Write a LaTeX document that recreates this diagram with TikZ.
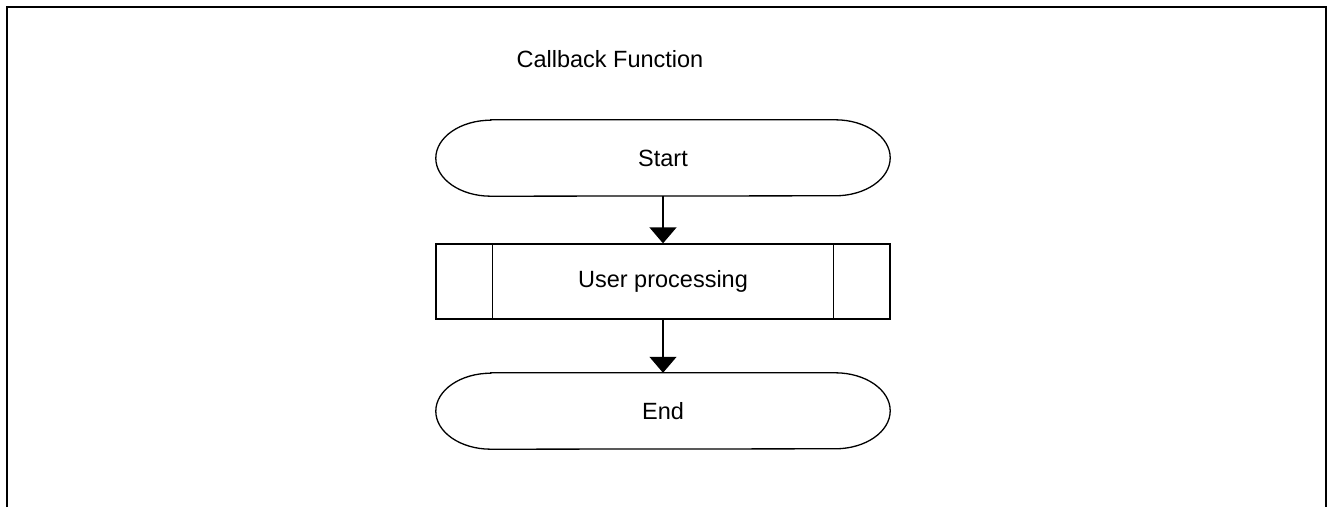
\documentclass[tikz,border=0pt]{standalone}
\usepackage{fontspec}
\setmainfont{Liberation Sans}
\usetikzlibrary{arrows.meta}
\begin{document}
\begin{tikzpicture}[x=1pt,y=1pt,
  txt/.style={font=\fontsize{23.5}{28}\selectfont},
  term/.style={txt, minimum width=454pt, minimum height=76pt, inner sep=0pt},
  proc/.style={txt, draw, line width=1.3pt, minimum width=454pt, minimum height=75pt, inner sep=0pt},
  shapeline/.style={line width=1.3pt},
  flow/.style={line width=1.3pt, -{Triangle[width=27pt,length=16pt]}}]
\useasboundingbox (0,0) rectangle (1328,507);
% frame open at bottom
\draw[line width=2pt] (7,0) -- (7,500) -- (1326,500) -- (1326,0);
% title
\node[txt, anchor=base west] (title) at (513,439) {Callback Function};
% nodes
\node[term] (start) at (663,349) {Start};
\node[proc] (user) at (663,225.5) {User processing};
\node[term] (end) at (663,96) {End};
% terminal outlines
\foreach \n in {start,end}{
  \draw[shapeline] ([xshift=55pt]\n.north west) -- ([xshift=-55pt]\n.north east)
    arc[start angle=90,end angle=-90,x radius=55pt,y radius=38pt]
    -- ([xshift=55pt]\n.south west)
    arc[start angle=270,end angle=90,x radius=55pt,y radius=38pt] -- cycle;
}
% predefined-process side bars
\draw[shapeline] ([xshift=57pt]user.north west) -- ([xshift=57pt]user.south west);
\draw[shapeline] ([xshift=-57pt]user.north east) -- ([xshift=-57pt]user.south east);
% connectors
\draw[flow] (start.south) -- (user.north);
\draw[flow] (user.south) -- (end.north);
\end{tikzpicture}
\end{document}
